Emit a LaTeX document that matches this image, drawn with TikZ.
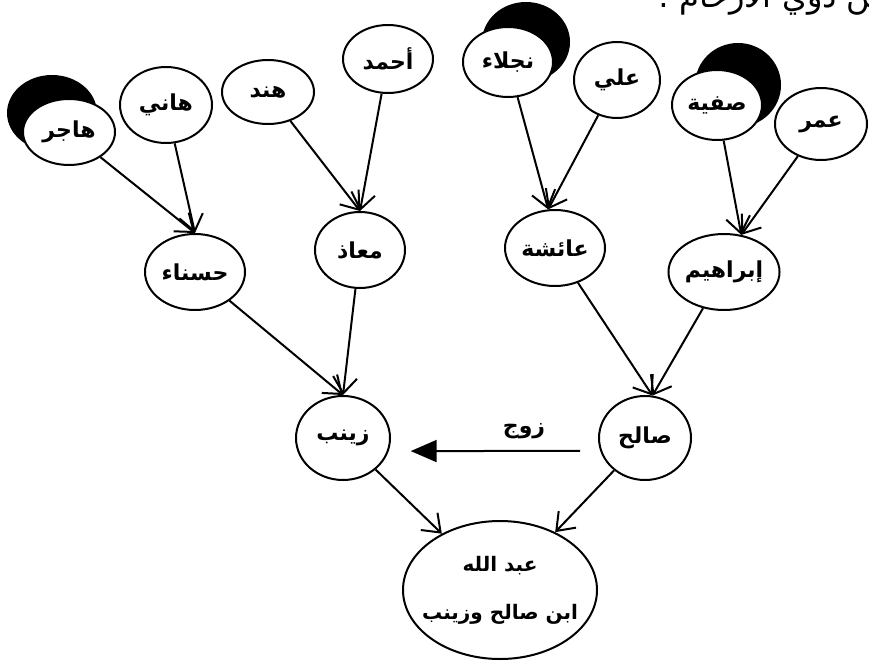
\documentclass[tikz,border=0pt]{standalone}
\usepackage{fontspec}
\newfontfamily\arabicfont[Script=Arabic]{DejaVu Sans}
\TeXXeTstate=1
\usetikzlibrary{shapes.geometric,arrows.meta}
\newcommand{\arname}[1]{{\arabicfont\bfseries\beginR #1\endR}}

\begin{document}
\begin{tikzpicture}[x=1pt, y=-1pt,
    member/.style={ellipse, draw, fill=white, line width=2pt, inner sep=0pt,
      font=\fontsize{22}{26}\selectfont},
    darkdisc/.style={fill=black},
    descent/.style={line width=2pt, -{Straight Barb[length=16pt,width=24pt,line width=2pt]}},
    spouse/.style={line width=2pt, -{Triangle[length=26pt,width=22pt]},
      shorten <=20pt, shorten >=22pt}]
    \useasboundingbox (0,0) rectangle (869,671);

    \node[anchor=base east, font=\fontsize{32}{36}\selectfont] (title) at (892,8)
      {\arabicfont\beginR من ذوي الأرحام :\endR};

    % black discs behind three names
    \fill[darkdisc] (52,113) ellipse [x radius=45, y radius=38];
    \fill[darkdisc] (526,42) ellipse [x radius=44, y radius=40];
    \fill[darkdisc] (738,85) ellipse [x radius=43, y radius=42];

    \node[member, minimum width=92pt, minimum height=66pt] (hajar) at (69,132) {\arname{هاجر}};
    \node[member, minimum width=92pt, minimum height=76pt] (hani) at (166,105) {\arname{هاني}};
    \node[member, minimum width=92pt, minimum height=64pt] (hind) at (268,92) {\arname{هند}};
    \node[member, minimum width=90pt, minimum height=68pt] (ahmad) at (388,59) {\arname{أحمد}};
    \node[member, minimum width=90pt, minimum height=70pt] (najla) at (508,62) {\arname{نجلاء}};
    \node[member, minimum width=86pt, minimum height=76pt] (ali) at (617,80) {\arname{علي}};
    \node[member, minimum width=90pt, minimum height=70pt] (safiya) at (717,105) {\arname{صفية}};
    \node[member, minimum width=92pt, minimum height=72pt] (umar) at (821,124) {\arname{عمر}};

    \node[member, minimum width=100pt, minimum height=76pt] (hasna) at (195,272) {\arname{حسناء}};
    \node[member, minimum width=90pt, minimum height=76pt] (muadh) at (360,250) {\arname{معاذ}};
    \node[member, minimum width=100pt, minimum height=76pt] (aisha) at (555,248) {\arname{عائشة}};
    \node[member, minimum width=102pt, minimum height=76pt] (ibrahim) at (724,272) {\arname{إبراهيم}};

    \node[member, minimum width=94pt, minimum height=84pt] (zaynab) at (343,438) {\arname{زينب}};
    \node[member, minimum width=92pt, minimum height=84pt] (salih) at (645,438) {\arname{صالح}};

    \node[member, minimum width=194pt, minimum height=138pt, align=center,
      font=\fontsize{20}{24}\selectfont] (abd) at (500,590)
      {\makebox[100pt]{\arname{عبد الله}}\\[24pt]\makebox[100pt]{\arname{ابن صالح وزينب}}};

    % edges
    \draw[descent] (hajar) -- (hasna.north);
    \draw[descent] (hani) -- (hasna.north);
    \draw[descent] (hind) -- (muadh.north);
    \draw[descent] (ahmad) -- (muadh.north);
    \draw[descent] (najla) -- (aisha.100);
    \draw[descent] (ali) -- (aisha.100);
    \draw[descent] (safiya) -- (ibrahim.65);
    \draw[descent] (umar) -- (ibrahim.65);
    \draw[descent] (hasna) -- (zaynab.north);
    \draw[descent] (muadh) -- (zaynab.north);
    \draw[descent] (aisha) -- (salih.80);
    \draw[descent] (ibrahim) -- (salih.80);
    \draw[descent] (zaynab) -- (abd);
    \draw[descent] (salih) -- (abd);
    \draw[spouse] (salih.196) -- node[above=8pt, pos=0.36, font=\fontsize{22}{26}\selectfont] {\arname{زوج}} (zaynab.-16);
\end{tikzpicture}
\end{document}
